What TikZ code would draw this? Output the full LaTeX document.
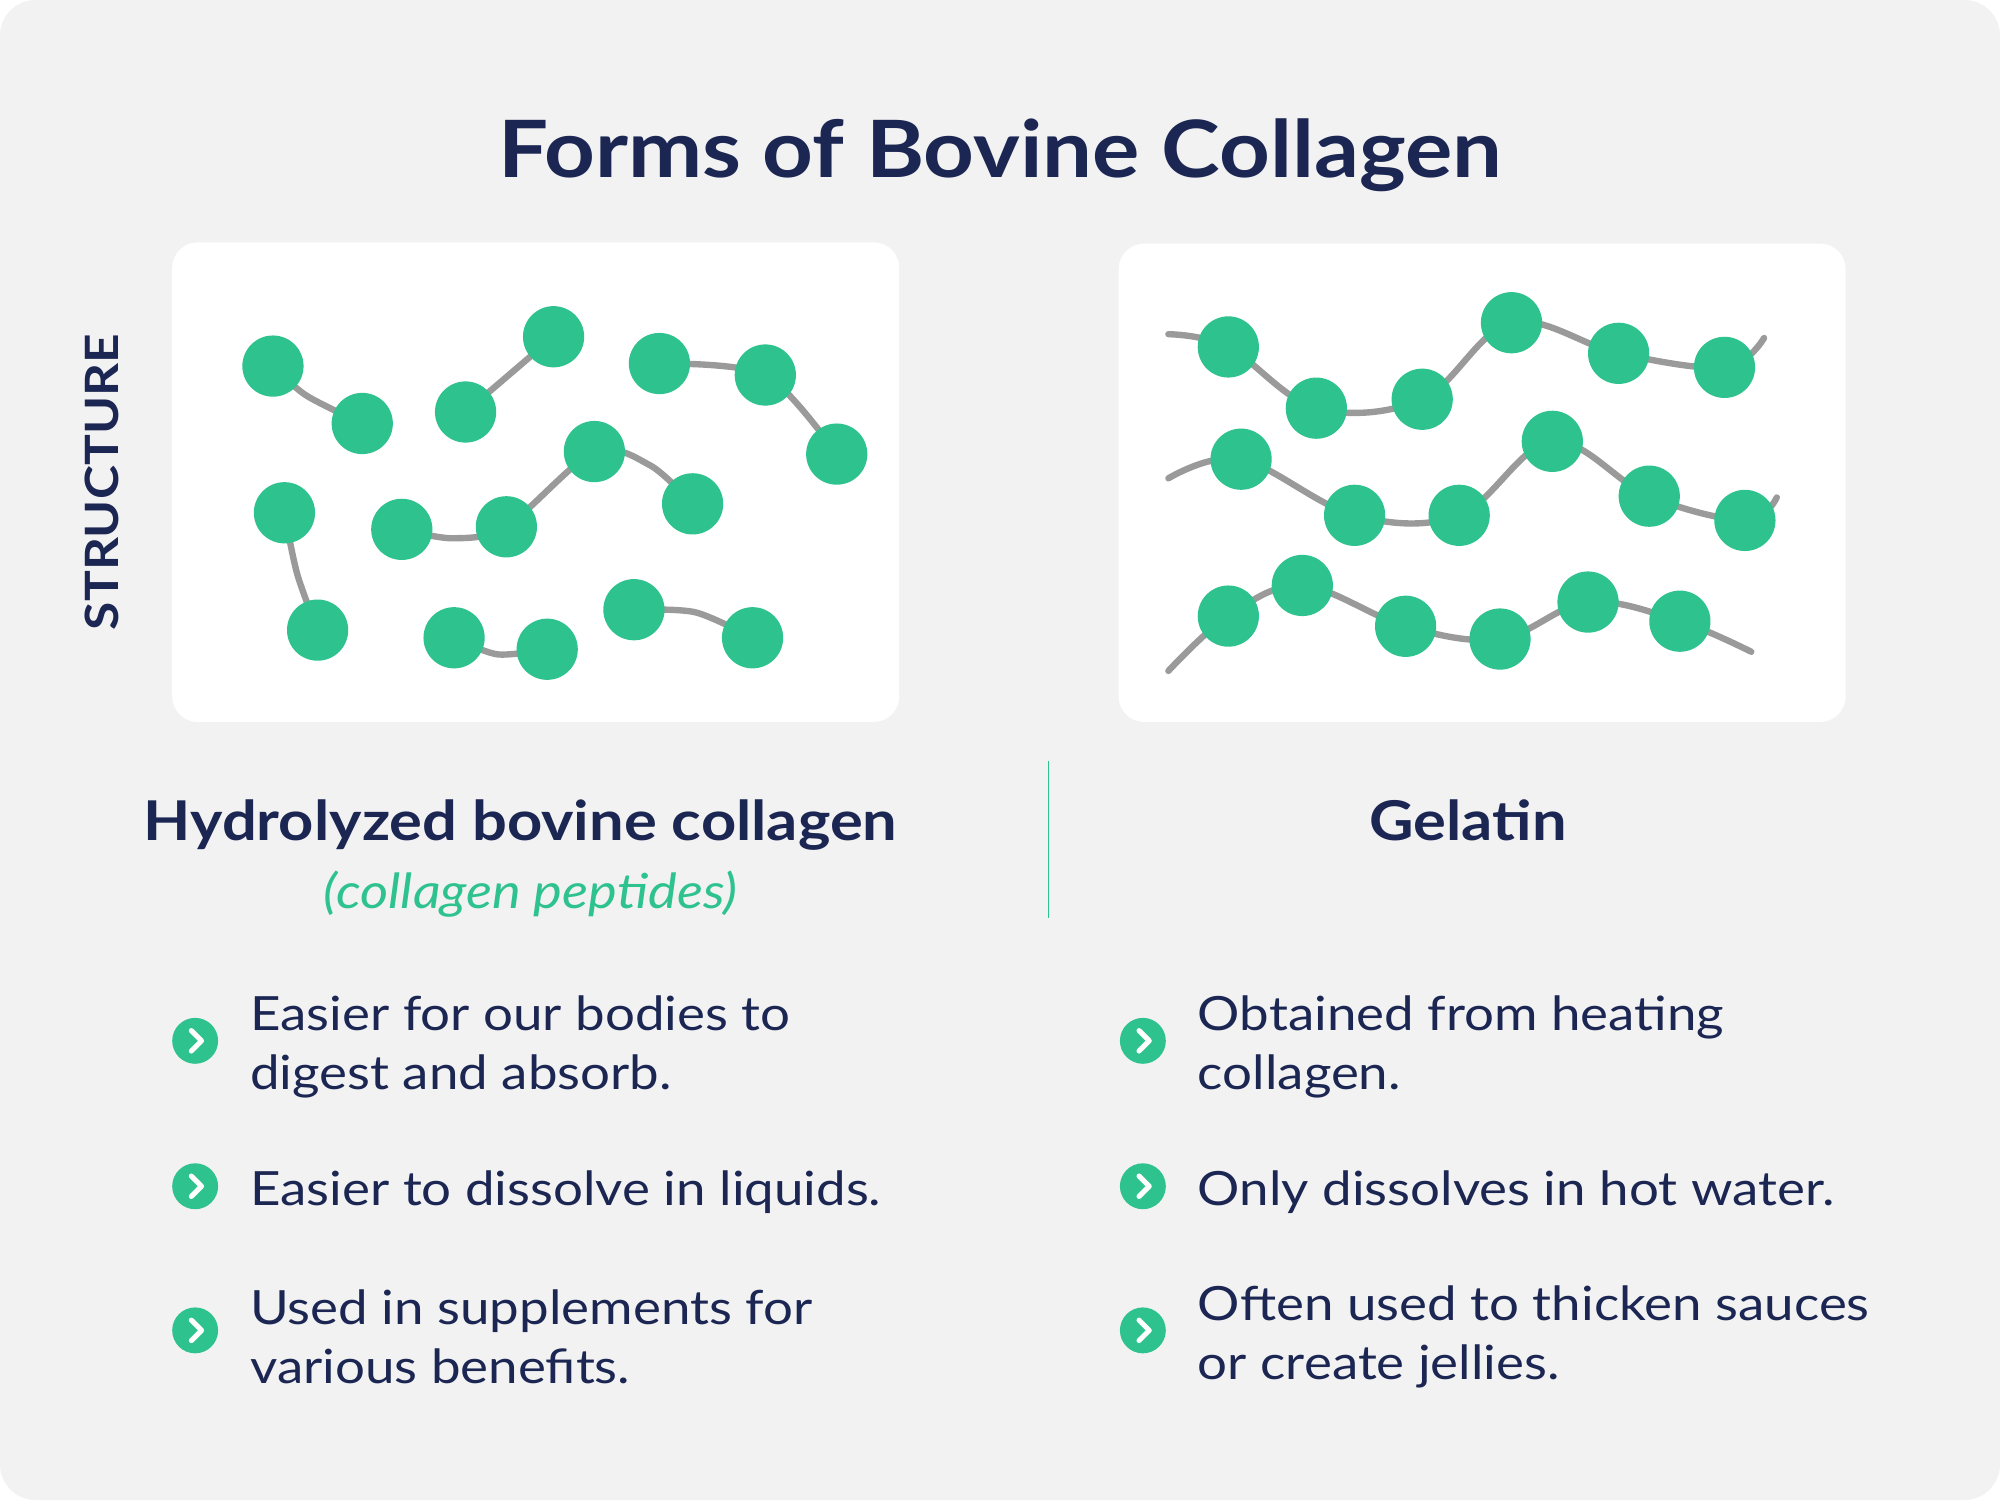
\documentclass[tikz,border=0pt]{standalone}
\usepackage{fontspec}
\setmainfont{Lato}[FakeStretch=1.12]
\definecolor{navy}{HTML}{1B2653}
\definecolor{grn}{HTML}{2EC28F}
\definecolor{chain}{HTML}{9A9A9A}
\definecolor{bg}{HTML}{F2F2F2}
\begin{document}
\begin{tikzpicture}[x=1pt,y=-1pt,
  dot/.style={circle,fill=grn,minimum size=48pt,inner sep=0pt},
  ln/.style={draw=chain,line width=5pt,line cap=round},
  box/.style={fill=white,rounded corners=20pt},
  txt/.style={anchor=west,align=left,text=navy,font=\fontsize{37}{46}\selectfont,inner sep=0pt},
  ico/.style={circle,fill=grn,minimum size=36pt,inner sep=0pt}]
\useasboundingbox (0,0) rectangle (1568,1176);
\fill[white] (0,0) rectangle (1568,1176);
\fill[bg,rounded corners=28pt] (0,0) rectangle (1568,1176);
\node[text=navy,font=\bfseries\fontsize{62}{70}\selectfont] (title) at (784,122) {Forms of Bovine Collagen};
\node[text=navy,font=\bfseries\fontsize{36}{40}\selectfont,rotate=90] (struct) at (80,378) {STRUCTURE};
\fill[box] (135,190) rectangle (705,566);
\fill[box] (877,191) rectangle (1447,566);
% left chains
\draw[ln] plot[smooth] coordinates {(214,287)(240,310)(284,332)};
\draw[ln] (365,323) -- (434,264);
\draw[ln] plot[smooth] coordinates {(517,285)(600,294)(656,356)};
\draw[ln] plot[smooth] coordinates {(223,402)(233,450)(249,494)};
\draw[ln] plot[smooth] coordinates {(315,415)(355,422)(397,413)(466,354)(510,365)(543,395)};
\draw[ln] plot[smooth] coordinates {(356,500)(390,513)(429,509)};
\draw[ln] plot[smooth] coordinates {(497,478)(545,480)(590,500)};
\foreach \p/\n in {{214,287}/a1,{284,332}/a2,{365,323}/a3,{434,264}/a4,{517,285}/a5,{600,294}/a6,{656,356}/a7,{223,402}/a8,{249,494}/a9,{315,415}/a10,{397,413}/a11,{466,354}/a12,{543,395}/a13,{356,500}/a14,{429,509}/a15,{497,478}/a16,{590,500}/a17}
  \node[dot] (\n) at (\p) {};
% right chains
\draw[ln] plot[smooth,tension=0.6] coordinates {(916,262)(963,272)(1032,320)(1115,313)(1185,253)(1269,277)(1352,288)(1383,265)};
\draw[ln] plot[smooth,tension=0.6] coordinates {(916,375)(973,360)(1062,404)(1144,404)(1217,346)(1293,389)(1368,408)(1393,390)};
\draw[ln] plot[smooth,tension=0.6] coordinates {(916,526)(963,483)(1021,459)(1102,491)(1176,501)(1245,472)(1317,487)(1373,511)};
\foreach \p/\n in {{963,272}/b1,{1032,320}/b2,{1115,313}/b3,{1185,253}/b4,{1269,277}/b5,{1352,288}/b6,{973,360}/b7,{1062,404}/b8,{1144,404}/b9,{1217,346}/b10,{1293,389}/b11,{1368,408}/b12,{963,483}/b13,{1021,459}/b14,{1102,491}/b15,{1176,501}/b16,{1245,472}/b17,{1317,487}/b18}
  \node[dot] (\n) at (\p) {};
\coordinate (d1) at (822,597); \coordinate (d2) at (822,720);
\draw[grn,line width=1.5pt] (d1) -- (d2);
\node[text=navy,font=\bfseries\fontsize{43}{46}\selectfont] (h1) at (408,647) {Hydrolyzed bovine collagen};
\node[text=grn,font=\itshape\fontsize{38}{40}\selectfont] (h1s) at (416,701) {(collagen peptides)};
\node[text=navy,font=\bfseries\fontsize{43}{46}\selectfont] (h2) at (1151,643) {Gelatin};
\foreach \x/\y/\t/\n in {153/821/{Easier for our bodies to\\digest and absorb.}/l1, 153/935/{Easier to dissolve in liquids.}/l2, 153/1048/{Used in supplements for\\various benefits.}/l3, 896/821/{Obtained from heating\\collagen.}/r1, 896/935/{Only dissolves in hot water.}/r2, 896/1048/{Often used to thicken sauces\\or create jellies.}/r3}{
  \node[ico] (i\n) at (\x,\y-5) {};
  \draw[white,line width=4pt,line cap=round,line join=round] ([shift={(-3,-8)}]i\n.center) -- ([shift={(5,0)}]i\n.center) -- ([shift={(-3,8)}]i\n.center);
  \node[txt] (t\n) at (\x+43,\y) {\t};
}
\end{tikzpicture}
\end{document}
